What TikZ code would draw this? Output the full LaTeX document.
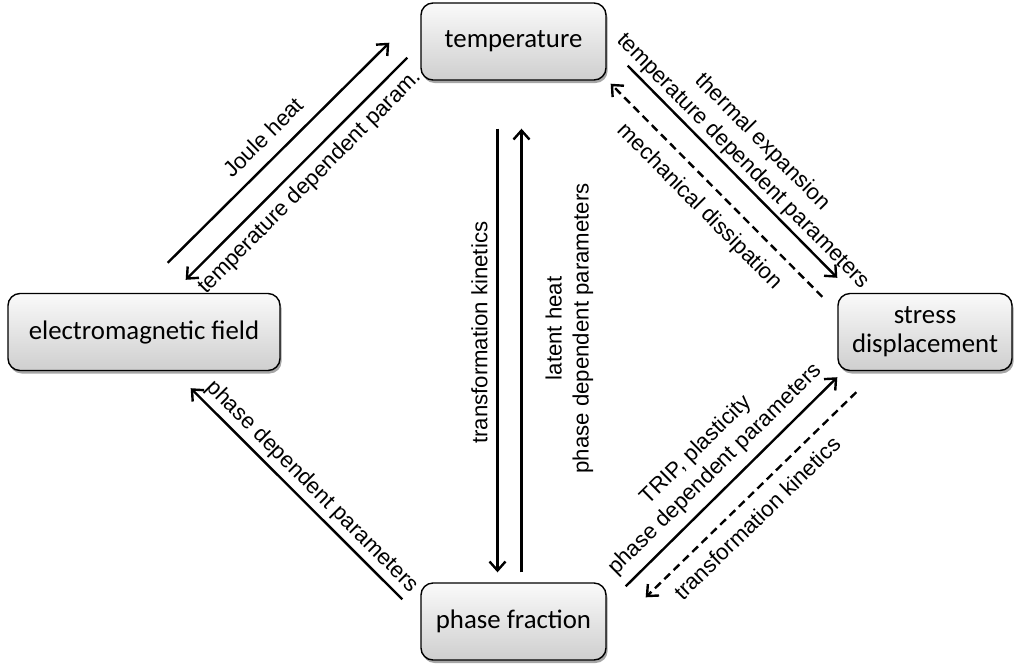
\documentclass[tikz,border=0pt]{standalone}
\usepackage{fontspec}
\setmainfont{Liberation Sans}
\newfontfamily\boxfont{Carlito}
\usetikzlibrary{arrows.meta,shadows}

\begin{document}
\begin{tikzpicture}[x=0.5pt, y=-0.5pt,
  fieldnode/.style={draw=black, line width=0.7pt, rounded corners=6pt, top color=gray!4, bottom color=gray!38, drop shadow={shadow xshift=0.8pt, shadow yshift=-1.5pt, opacity=0.35, fill=black}, minimum height=38.5pt, align=center, font=\boxfont\fontsize{13.4}{14.5}\selectfont},
  coupling/.style={line width=1.2pt, -{Straight Barb[length=4.5pt, width=8pt]}},
  weakcoupling/.style={coupling, dash pattern=on 4pt off 2.5pt},
  effect/.style={font=\fontsize{11.1}{13.5}\selectfont, align=center, inner sep=0pt}]
\useasboundingbox (0,0) rectangle (1014,666);
\node[fieldnode, minimum width=92.5pt] (temp) at (513.5,41.5) {temperature};
\node[fieldnode, minimum width=136pt] (emf) at (144,332) {electromagnetic field};
\node[fieldnode, minimum width=87pt] (stress) at (925,332) {stress\\displacement};
\node[fieldnode, minimum width=92.5pt] (phase) at (513.5,621.5) {phase fraction};
\draw[coupling] ([shift={(-113,-30)}]emf.north east) -- node[effect, sloped, pos=0.5, yshift=11pt] {Joule heat} ([shift={(-31,-38)}]temp.south west);
\draw[coupling] ([shift={(-13,-23)}]temp.south west) -- node[effect, sloped, pos=0.5, yshift=-9.6pt] {temperature dependent param.} ([shift={(-95,-13)}]emf.north east);
\draw[coupling] ([shift={(21,-15)}]temp.south east) -- node[effect, sloped, pos=0.5, yshift=14.2pt] {thermal expansion\\temperature dependent parameters} ([shift={(0,-15)}]stress.north west);
\draw[weakcoupling] ([shift={(-15,4)}]stress.north west) -- node[effect, sloped, pos=0.5, yshift=-11.9pt] {mechanical dissipation} ([shift={(4,3)}]temp.south east);
\draw[coupling] ([shift={(19,4)}]phase.north east) -- node[effect, sloped, pos=0.49, yshift=16.8pt] {TRIP, plasticity\\phase dependent parameters} ([shift={(0,6)}]stress.south west);
\draw[weakcoupling] ([shift={(19,21)}]stress.south west) -- node[effect, sloped, pos=0.54, yshift=-10.5pt] {transformation kinetics} ([shift={(39,15)}]phase.north east);
\draw[coupling] ([shift={(-18,17)}]phase.north west) -- node[effect, sloped, pos=0.48, yshift=8pt] {phase dependent parameters} ([shift={(-90,17)}]emf.south east);
\draw[coupling] ([shift={(-16,48)}]temp.south) -- node[effect, pos=0.46, rotate=90, yshift=9pt] {transformation kinetics} ([shift={(-16,-10)}]phase.north);
\draw[coupling] ([shift={(8,-10)}]phase.north) -- node[effect, pos=0.55, rotate=90, yshift=-24pt] {latent heat\\phase dependent parameters} ([shift={(8,48)}]temp.south);
\end{tikzpicture}
\end{document}
